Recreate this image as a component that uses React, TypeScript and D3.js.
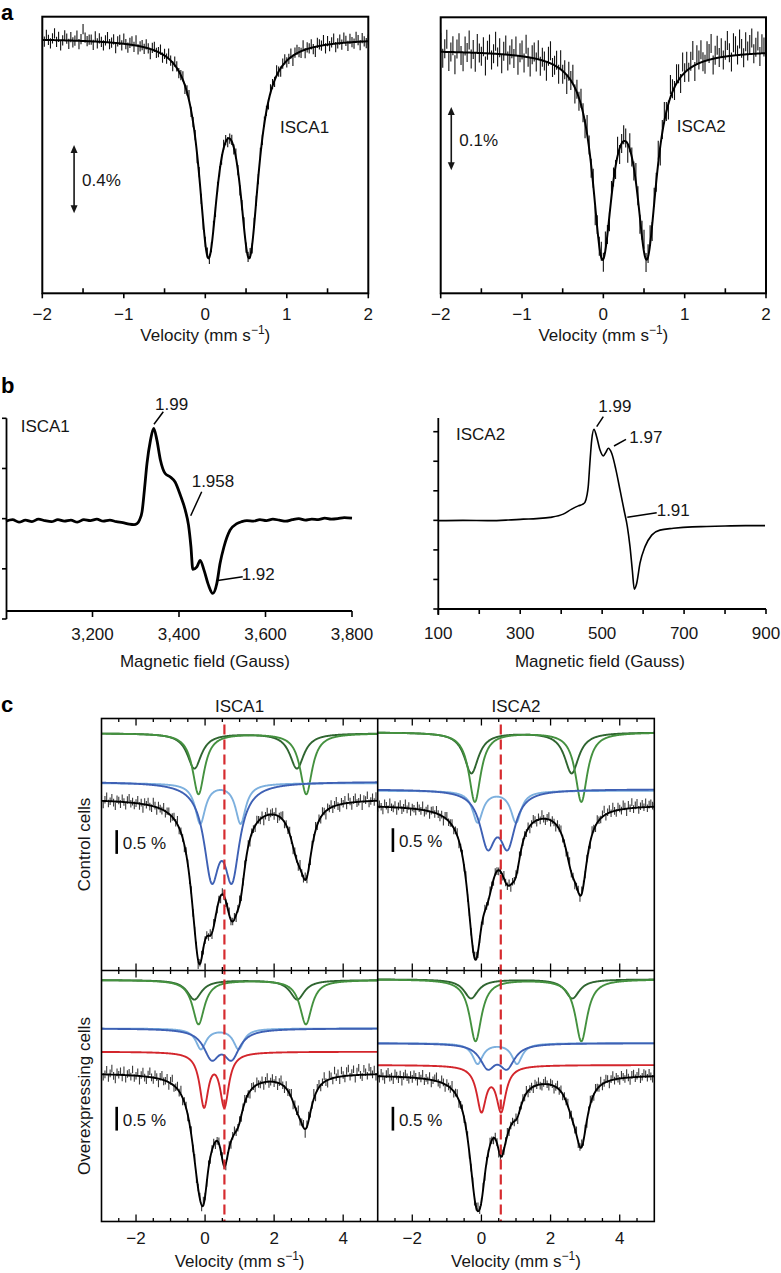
import React from 'react';
import * as d3 from 'd3';

const FONT = '"Liberation Sans", Arial, Helvetica, sans-serif';
const INK = '#161616';
const MINUS = '\u2212';
const fmtSigned = (v: number) => (v < 0 ? MINUS : '') + Math.abs(v);

// ================= Panel a : Mössbauer of purified proteins =================
const A_MAJOR_TICKS = [-2, -1, 0, 1, 2];
const A_MINOR_TICKS = [-1.5, -0.5, 0.5, 1.5];

// ISCA1 doublet (transmission %, 100 = baseline)
const A1_LINE_POS = [0.037, 0.54];
const A1_LINE_DEPTH = 1.198;
const A1_LINE_GAMMA = 0.143;
const A1_BASELINE = 100;
const A1_Y_DOMAIN = [98.507, 100.126];
const A1_RESID_UNIT = 0.01; // residuals below in 0.01 %
const A1_ERR = 0.03;
const A1_RESID = [
  2, -1, 3, 0, -2, 1, 4, -1, 2, -3, 0, 3, 1, -2, 2, -1, 0, 3, -2, 1,
  7, 2, 0, 1, 1, -2, 3, -1, 2, 0, -2, 1, 3, -1, 0, 2, -3, 1, 2, -1,
  3, 0, -2, 1, 2, -1, 3, -2, 0, 1, -1, 2, 0, -3, 1, 2, -1, 0, 2, -2,
  1, -1, 3, 0, -2, 2, 1, -1, 0, 2, -2, 1, 3, -1, 0, 1, -2, 2, 0, -1,
  1, 2, -1, 0, 2, -2, 1, 0, -1, 2, 1, -2, 0, 1, -1, 2, 0, -2, 1, 3,
  -1, 0, 2, -2, 1, 0, -1, 2, -1, 1, 0, -2, 2, 1, -1, 3, 0, -2, 1, 2,
  -1, 0, 2, -3, 1, 2, 0, -1, 3, -2, 1, 0, 2, -1, -3, 2, 1, 0, 3, -2,
  2, -1, 1, 3, -2, 0, 2, -1, 3, 1, -2, 2, 0, -1, 3, 1, -2, 2, 0, -1,
  1,
];
const A1_BAR = { v: -1.61, top: 99.375, size: 0.4, label: '0.4%' };

// ISCA2 doublet
const A2_LINE_POS = [-0.012, 0.534];
const A2_LINE_DEPTH = 0.3096;
const A2_LINE_GAMMA = 0.15;
const A2_BASELINE = 100;
const A2_Y_DOMAIN = [99.6156, 100.0517];
const A2_RESID_UNIT = 0.005;
const A2_ERR = 0.015;
const A2_RESID = [
  3, -2, 1, 4, -3, 0, 2, -4, 1, 3, -1, -3, 2, 0, 4, -2, 1, -3, 3, 0,
  -1, 2, -4, 1, 3, -2, 0, 4, -1, 2, -3, 1, 3, -2, 0, 2, -1, 3, -3, 1,
  2, -2, 4, 0, -3, 1, 2, -1, 3, -2, 1, 0, -3, 2, 4, -1, 0, 2, -2, 3,
  -1, 1, -3, 2, 0, 3, -2, 1, -1, 2, 0, -2, 3, 1, -1, 2, -3, 1, 0, 2,
  -1, 3, 0, -2, 2, 1, -1, 3, -2, 0, 2, 1, -3, 2, 0, -1, 3, 1, -2, 2,
  4, -1, 1, 3, -2, 2, 0, 4, -3, 1, 3, 0, -2, 4, 1, -1, 3, 2, -2, 4,
  0, 3, -1, 2, 5, -2, 3, 1, 4, 0, -1, 3, 2, 5, -2, 1, 4, 0, 3, -1,
  2, 5, 1, -2, 4, 3, 0, 5, 2, -1, 4, 1, 3, 5, 0, 2, 4, -1, 3, 2,
  1,
];
const A2_BAR = { v: -1.87, top: 99.91, size: 0.1, label: '0.1%' };

// ================= Panel b : EPR =================
const B1_X_TICKS = [3200, 3400, 3600, 3800];
const B1_Y_TICKS = [-2, -1, 0, 1, 2];
const B1_FIELD = [
  3000, 3015, 3030, 3045, 3060, 3075, 3090, 3105, 3120, 3135, 3150, 3165, 3180, 3195, 3210, 3225, 3240, 3255, 3270, 3285,
  3296, 3303, 3309, 3314.6, 3320, 3326, 3334, 3341.5, 3349, 3357, 3368, 3380, 3391, 3403, 3414.5, 3422, 3427.6, 3432, 3441.4, 3449,
  3458, 3468, 3478, 3487.5, 3495, 3504, 3518, 3533.7, 3545, 3557,
  3572, 3587, 3602, 3617, 3632, 3647, 3662, 3677, 3692, 3707, 3722, 3737, 3752, 3767, 3782, 3800,
];
const B1_SIGNAL = [
  -0.05, -0.02, -0.07, -0.03, -0.06, -0.01, -0.04, -0.06, -0.02, -0.05, -0.03, -0.07, -0.02, -0.04, -0.01, -0.05, -0.03, -0.06, -0.08, -0.11,
  -0.12, -0.1, -0.02, 0.14, 0.57, 1.1, 1.56, 1.8, 1.56, 1.17, 0.9, 0.83, 0.73, 0.47, 0.17, -0.13, -0.56, -1.01, -0.96, -0.83,
  -1.03, -1.32, -1.49, -1.29, -0.89, -0.56, -0.23, -0.1, -0.06, -0.04,
  -0.05, -0.02, -0.04, -0.01, -0.03, -0.05, -0.02, 0.0, -0.03, -0.01, -0.02, 0.01, -0.01, 0.0, 0.02, 0.01,
];
const B1_G_LABELS = ['1.99', '1.958', '1.92'];

const B2_X_TICKS = [100, 200, 300, 400, 500, 600, 700, 800, 900];
const B2_X_LABELS = [100, 300, 500, 700, 900];
const B2_Y_TICKS = [-3, -2, -1, 0, 1, 2, 3];
const B2_FIELD = [
  100, 160, 226, 270, 307.5, 340, 373, 405, 425.6, 441.8, 452, 458, 463, 466, 470, 474.5, 480, 486.6, 494.8, 502.8,
  509, 515, 523.3, 533.8, 543.6, 553.4, 561.5, 568, 573.6, 578.5, 584.4, 592.4, 604.7, 621, 641, 673.8, 720, 755, 800, 850, 897.6,
];
const B2_SIGNAL = [
  -0.01, 0.0, -0.01, 0.01, 0.04, 0.06, 0.1, 0.21, 0.38, 0.49, 0.54, 0.61, 0.85, 1.14, 1.93, 2.72, 3.08, 2.83, 2.38, 2.18,
  2.3, 2.44, 2.27, 1.7, 1.03, 0.35, -0.21, -0.89, -1.68, -2.33, -2.13, -1.45, -0.89, -0.5, -0.33, -0.27, -0.22, -0.21, -0.19, -0.18, -0.18,
];
const B2_G_LABELS = ['1.99', '1.97', '1.91'];

// ================= Panel c : whole-cell Mössbauer =================
const C_MAJOR_TICKS = [-2, 0, 2, 4];
const C_MINOR_TICKS = [-2.5, -1.5, -1, -0.5, 0.5, 1, 1.5, 2.5, 3, 3.5, 4.5];
const C_DASH_VEL = 0.56;
const C_RESID_UNIT = 0.025;
const C_ERR = 0.08;
const C_BAR_SIZE = 0.5;
const C_BAR_V = -2.56;

// components: [shallow green, deep green, light blue, dark blue, (red)]
const C1_KINDS = ['greenDark', 'greenMid', 'blueLight', 'blueDark'];
const C1_POS = [[-0.31, 2.66], [-0.19, 2.93], [-0.14, 1.03], [0.19, 0.78]];
const C1_DEPTH = [0.74, 1.28, 0.84, 1.83];
const C1_GAMMA = [0.25, 0.21, 0.18, 0.27];
const C1_BASE = [-0.31, -0.31, -1.36, -1.33];
const C1_FIT_BASE = -1.69;
const C1_BAR_TOP = -2.35;
const C1_RESID = [
  2, -3, 1, 4, -2, 0, 3, -1, -4, 2, 1, -2, 3, 0, -3, 2, 4, -1, 1, -2,
  0, 3, -2, 1, -4, 2, 0, 3, -1, -2, 4, 1, -3, 2, 0, -1, 3, -2, 1, 2,
  -3, 0, 2, -1, 4, -2, 1, 0, -3, 2, 1, -2, 3, -1, 0, 2, -4, 1, 3, -2,
  0, 1, -1, 2, -2, 3, 0, -1, 1, -3, 2, 0, -2, 1, 3, -1, 0, 2, -3, 1,
  4, -2, 0, 3, -1, 2, -3, 1, 0, -2, 3, 1, -1, 2, -4, 0, 3, -2, 1, 2,
  -1, 3, -3, 0, 2, 4, -2, 1, -1, 3, 0, -3, 2, 1, -2, 4, 0, -1, 3, -2,
  1, -3, 2, 0, 4, -1, 2, -2, 3, 1, -4, 2, 0, 3, -2, 1, 4, -1, -3, 2,
  0, 3, -2, 5, 1, -3, 2, 4, -1, 0, 3, -4, 2, 1, 5, -2, 0, 3, -1, 4,
  1,
];

const C2_KINDS = ['greenDark', 'greenMid', 'blueLight', 'blueDark'];
const C2_POS = [[-0.29, 2.61], [-0.19, 2.89], [-0.11, 1.0], [0.18, 0.76]];
const C2_DEPTH = [0.86, 1.46, 0.66, 1.09];
const C2_GAMMA = [0.25, 0.21, 0.18, 0.27];
const C2_BASE = [-0.29, -0.29, -1.52, -1.49];
const C2_FIT_BASE = -1.82;
const C2_BAR_TOP = -2.31;
const C2_RESID = [
  -1, 2, 0, -3, 3, 1, -2, 4, 0, -1, 2, -3, 1, 3, -2, 0, 4, -1, 2, -3,
  1, 0, -2, 3, 1, -1, 4, -2, 0, 2, -3, 1, 2, -1, 3, 0, -2, 1, -4, 2,
  3, -1, 0, 2, -2, 1, 3, -3, 0, 2, -1, 4, -2, 1, 0, -1, 2, 3, -2, 0,
  1, -3, 2, 0, -1, 3, 1, -2, 2, 0, -1, 1, -2, 3, 0, -1, 2, -3, 1, 0,
  2, -1, 3, -2, 0, 1, -1, 2, -3, 0, 3, 1, -2, 2, -1, 4, 0, -2, 1, 3,
  -2, 1, 0, -3, 2, 1, 3, -1, 0, -2, 2, 4, -1, 1, -3, 0, 2, -2, 3, 1,
  -1, 2, 0, -3, 4, 1, -2, 3, 0, -1, 2, 5, -2, 1, 3, -1, 4, 0, -2, 3,
  1, -1, 4, 2, -3, 3, 0, 5, -1, 2, 4, -2, 1, 3, 0, 4, -1, 2, 3, 1,
  0,
];

const C3_KINDS = ['greenDark', 'greenMid', 'blueLight', 'blueDark', 'red'];
const C3_POS = [[-0.31, 2.67], [-0.19, 2.92], [-0.12, 0.97], [0.19, 0.77], [-0.03, 0.56]];
const C3_DEPTH = [0.41, 0.93, 0.43, 0.57, 1.11];
const C3_GAMMA = [0.25, 0.21, 0.18, 0.28, 0.155];
const C3_BASE = [-0.2, -0.2, -1.22, -1.22, -1.71];
const C3_FIT_BASE = -2.16;
const C3_BAR_TOP = -2.87;
const C3_RESID = [
  3, -2, 0, 4, -3, 1, 5, -1, -4, 2, 0, 3, -2, 4, -3, 1, 2, -1, 5, -2,
  0, 3, -4, 1, 4, -1, -3, 2, 5, 0, -2, 3, 1, -4, 2, 4, -1, 0, 3, -3,
  2, 5, -2, 0, 3, -1, 4, -3, 1, 2, -2, 0, 4, -1, 3, -3, 1, 2, -2, 4,
  0, -1, 3, -2, 1, 2, -3, 0, 2, -1, 3, 1, -2, 0, 2, -3, 1, 3, -1, 0,
  2, -2, 1, 3, -1, 0, -3, 2, 1, -2, 3, 0, -1, 2, -3, 1, 4, -2, 0, 3,
  -1, 2, -3, 1, 4, 0, -2, 3, -1, 1, 4, -3, 2, 0, 5, -2, 1, 3, -4, 2,
  4, -1, 0, 5, -3, 2, 3, -2, 1, 5, -1, -3, 4, 2, -2, 6, 0, 3, -3, 5,
  1, -2, 4, 6, -1, 2, 5, -3, 3, 6, 0, -2, 5, 2, -1, 6, 3, 0, 4, -2,
  5,
];

const C4_KINDS = ['greenDark', 'greenMid', 'blueLight', 'blueDark', 'red'];
const C4_POS = [[-0.3, 2.63], [-0.17, 2.89], [-0.11, 1.03], [0.18, 0.74], [0.0, 0.57]];
const C4_DEPTH = [0.4, 1.3, 0.43, 0.47, 0.93];
const C4_GAMMA = [0.25, 0.21, 0.18, 0.27, 0.165];
const C4_BASE = [-0.185, -0.185, -1.53, -1.53, -1.99];
const C4_FIT_BASE = -2.2;
const C4_BAR_TOP = -2.87;
const C4_RESID = [
  1, -2, 3, 0, -3, 2, 4, -1, 0, -3, 3, 1, -2, 2, -4, 1, 3, 0, -2, 2,
  -1, 3, 1, -3, 2, 0, 4, -2, 1, -1, 3, -3, 0, 2, 4, -1, -2, 3, 1, -3,
  2, 0, -1, 4, -2, 1, 3, -3, 0, 2, -1, 1, 3, -2, 0, 2, -3, 1, 4, -1,
  0, 2, -2, 1, -1, 3, 0, -2, 2, 1, -3, 0, 2, -1, 1, 3, -2, 0, 1, -1,
  2, -3, 1, 0, 2, -1, 3, -2, 0, 1, -2, 2, 0, 3, -1, -2, 1, 3, 0, -2,
  2, 1, -3, 0, 3, -1, 2, -2, 1, 0, 3, -3, 2, 1, -1, 4, -2, 0, 3, -1,
  2, -3, 1, 4, 0, -2, 3, 1, -1, 4, -2, 0, 3, 2, -3, 1, 4, -1, 2, 0,
  -2, 3, 1, -1, 4, 0, -3, 2, 3, -1, 1, 4, -2, 0, 3, 2, -1, 3, 0, -2,
  2,
];

const C_KIND_COLOR: Record<string, string> = {
  greenDark: '#2f6530',
  greenMid: '#44913f',
  blueLight: '#7db0de',
  blueDark: '#3e60b4',
  red: '#d3262c',
};

// ================= helpers =================
const lor = (v: number, p: number, g: number) => 1 / (1 + ((v - p) / g) ** 2);
const absorb = (v: number, pos: number[], depth: number, gamma: number) =>
  pos.reduce((s, p) => s + depth * lor(v, p, gamma), 0);

function Text(props: any) {
  const { children, ...rest } = props;
  return (
    <text fontFamily={FONT} fontSize={17} fill={INK} {...rest}>
      {children}
    </text>
  );
}

function VelocityTitle({ x, y }: { x: number; y: number }) {
  return (
    <Text x={x} y={y} textAnchor="middle">
      <tspan>Velocity (mm s</tspan>
      <tspan dy={-7} fontSize={12}>{MINUS + '1'}</tspan>
      <tspan dy={7}>)</tspan>
    </Text>
  );
}

function DoubleArrow({ x, y1, y2 }: { x: number; y1: number; y2: number }) {
  const h = 8, w = 3.5;
  return (
    <g>
      <line x1={x} x2={x} y1={y1 + 4} y2={y2 - 4} stroke={INK} strokeWidth={1.6} />
      <path d={`M${x},${y1} L${x - w},${y1 + h} L${x + w},${y1 + h} Z`} fill={INK} />
      <path d={`M${x},${y2} L${x - w},${y2 - h} L${x + w},${y2 - h} Z`} fill={INK} />
    </g>
  );
}

// ================= Panel a component =================
function PanelA(p: {
  id: string; left: number; right: number; top: number; bottom: number;
  yDomain: number[]; linePos: number[]; lineDepth: number; lineGamma: number; baseline: number;
  resid: number[]; residUnit: number; err: number;
  bar: { v: number; top: number; size: number; label: string };
  label: string; labelX: number; labelY: number;
}) {
  const x = d3.scaleLinear().domain([-2, 2]).range([p.left, p.right]);
  const y = d3.scaleLinear().domain(p.yDomain).range([p.bottom, p.top]);
  const fit = (v: number) => p.baseline - absorb(v, p.linePos, p.lineDepth, p.lineGamma);
  const n = p.resid.length;
  const data = p.resid.map((r, i) => {
    const v = -2 + (4 * i) / (n - 1);
    return { v, t: fit(v) + r * p.residUnit };
  });
  const grid = d3.range(0, 801).map((i) => -2 + i * 0.005);
  const fitPath = d3.line<number>().x((v) => x(v)).y((v) => y(fit(v)))(grid) || '';
  const bx = x(p.bar.v);
  return (
    <g>
      <defs>
        <clipPath id={p.id}>
          <rect x={p.left} y={p.top} width={p.right - p.left} height={p.bottom - p.top} />
        </clipPath>
      </defs>
      <g clipPath={`url(#${p.id})`}>
        {data.map((d, i) => (
          <line key={i} x1={x(d.v)} x2={x(d.v)} y1={y(d.t + p.err)} y2={y(d.t - p.err)} stroke="#111" strokeWidth={1.1} />
        ))}
        <path d={fitPath} fill="none" stroke="#000" strokeWidth={2} />
      </g>
      <rect x={p.left} y={p.top} width={p.right - p.left} height={p.bottom - p.top} fill="none" stroke="#000" strokeWidth={2} />
      {A_MAJOR_TICKS.map((t) => (
        <line key={'M' + t} x1={x(t)} x2={x(t)} y1={p.bottom} y2={p.bottom + 5} stroke="#000" strokeWidth={1.6} />
      ))}
      {A_MINOR_TICKS.map((t) => (
        <line key={'m' + t} x1={x(t)} x2={x(t)} y1={p.bottom} y2={p.bottom - 5} stroke="#000" strokeWidth={1.6} />
      ))}
      {A_MAJOR_TICKS.map((t) => (
        <Text key={'l' + t} x={x(t)} y={320} textAnchor="middle">{fmtSigned(t)}</Text>
      ))}
      <VelocityTitle x={(p.left + p.right) / 2} y={341} />
      <DoubleArrow x={bx} y1={y(p.bar.top)} y2={y(p.bar.top - p.bar.size)} />
      <Text x={bx + 8} y={(y(p.bar.top) + y(p.bar.top - p.bar.size)) / 2 + 7}>{p.bar.label}</Text>
      <Text x={p.labelX} y={p.labelY}>{p.label}</Text>
    </g>
  );
}

// ================= Panel b components =================
function PanelB1() {
  const x = d3.scaleLinear().domain([3000, 3800]).range([6, 352]);
  const y = d3.scaleLinear().domain([-2, 2]).range([619, 418.3]);
  const pts = B1_FIELD.map((f, i) => [x(f), y(B1_SIGNAL[i])] as [number, number]);
  const path = d3.line().curve(d3.curveMonotoneX)(pts) || '';
  const axisY = 611;
  const ax = 6.5;
  return (
    <g>
      <line x1={ax} x2={ax} y1={y(2)} y2={y(-2)} stroke="#000" strokeWidth={1.8} />
      {B1_Y_TICKS.map((t) => (
        <line key={t} x1={ax - 4.5} x2={ax} y1={y(t)} y2={y(t)} stroke="#000" strokeWidth={1.6} />
      ))}
      <line x1={ax} x2={x(3800)} y1={axisY} y2={axisY} stroke="#000" strokeWidth={1.8} />
      {B1_X_TICKS.map((t) => (
        <g key={t}>
          <line x1={x(t)} x2={x(t)} y1={axisY} y2={axisY + 6} stroke="#000" strokeWidth={1.6} />
          <Text x={x(t)} y={640} textAnchor="middle">{d3.format(',')(t)}</Text>
        </g>
      ))}
      <Text x={205} y={667} textAnchor="middle">Magnetic field (Gauss)</Text>
      <path d={path} fill="none" stroke="#000" strokeWidth={2.8} strokeLinejoin="round" />
      <Text x={20.7} y={431.5}>ISCA1</Text>
      <Text x={155} y={410}>{B1_G_LABELS[0]}</Text>
      <line x1={154} y1={424.3} x2={163.3} y2={411.7} stroke="#000" strokeWidth={1.5} />
      <Text x={191.7} y={486.7}>{B1_G_LABELS[1]}</Text>
      <line x1={190.7} y1={515.7} x2={201.7} y2={491.7} stroke="#000" strokeWidth={1.5} />
      <Text x={241.7} y={580}>{B1_G_LABELS[2]}</Text>
      <line x1={216} y1={580.7} x2={242.7} y2={576.7} stroke="#000" strokeWidth={1.5} />
    </g>
  );
}

function PanelB2() {
  const x = d3.scaleLinear().domain([100, 900]).range([438.3, 766]);
  const y = d3.scaleLinear().domain([-3, 3]).range([609, 431.7]);
  const pts = B2_FIELD.map((f, i) => [x(f), y(B2_SIGNAL[i])] as [number, number]);
  const path = d3.line().curve(d3.curveMonotoneX)(pts) || '';
  const axisY = 609;
  const ax = 438.3;
  return (
    <g>
      <line x1={ax} x2={ax} y1={418} y2={615} stroke="#000" strokeWidth={1.8} />
      {B2_Y_TICKS.map((t) => (
        <line key={t} x1={ax - 5} x2={ax} y1={y(t)} y2={y(t)} stroke="#000" strokeWidth={1.6} />
      ))}
      <line x1={ax} x2={x(900)} y1={axisY} y2={axisY} stroke="#000" strokeWidth={1.8} />
      {B2_X_TICKS.map((t) => (
        <line key={t} x1={x(t)} x2={x(t)} y1={axisY} y2={axisY + 5} stroke="#000" strokeWidth={1.6} />
      ))}
      {B2_X_LABELS.map((t) => (
        <Text key={t} x={x(t)} y={638.5} textAnchor="middle">{String(t)}</Text>
      ))}
      <Text x={600} y={667} textAnchor="middle">Magnetic field (Gauss)</Text>
      <path d={path} fill="none" stroke="#000" strokeWidth={1.6} strokeLinejoin="round" />
      <Text x={456} y={440}>ISCA2</Text>
      <Text x={598.3} y={411.5}>{B2_G_LABELS[0]}</Text>
      <line x1={596.7} y1={426.7} x2={603.3} y2={416.7} stroke="#000" strokeWidth={1.5} />
      <Text x={629.3} y={442.5}>{B2_G_LABELS[1]}</Text>
      <line x1={614} y1={446} x2={626} y2={439.3} stroke="#000" strokeWidth={1.5} />
      <Text x={656.7} y={516}>{B2_G_LABELS[2]}</Text>
      <line x1={627.3} y1={517.3} x2={656.7} y2={512.7} stroke="#000" strokeWidth={1.5} />
    </g>
  );
}

// ================= Panel c component =================
function PanelC(p: {
  id: string; left: number; right: number; top: number; bottom: number; yDomain: number[];
  kinds: string[]; pos: number[][]; depth: number[]; gamma: number[]; base: number[];
  fitBase: number; resid: number[]; barTop: number;
}) {
  const x = d3.scaleLinear().domain([-3, 5]).range([p.left, p.right]);
  const y = d3.scaleLinear().domain(p.yDomain).range([p.bottom, p.top]);
  const total = (v: number) => p.pos.reduce((s, ps, k) => s + absorb(v, ps, p.depth[k], p.gamma[k]), 0);
  const fit = (v: number) => p.fitBase - total(v);
  const grid = d3.range(0, 801).map((i) => -3 + i * 0.01);
  const n = p.resid.length;
  const data = p.resid.map((r, i) => {
    const v = -3 + (8 * i) / (n - 1);
    return { v, t: fit(v) + r * C_RESID_UNIT };
  });
  const compPaths = p.pos.map((ps, k) =>
    d3.line<number>().x((v) => x(v)).y((v) => y(p.base[k] - absorb(v, ps, p.depth[k], p.gamma[k])))(grid) || ''
  );
  const fitPath = d3.line<number>().x((v) => x(v)).y((v) => y(fit(v)))(grid) || '';
  const bx = x(C_BAR_V);
  const by1 = y(p.barTop), by2 = y(p.barTop - C_BAR_SIZE);
  return (
    <g>
      <defs>
        <clipPath id={p.id}>
          <rect x={p.left} y={p.top} width={p.right - p.left} height={p.bottom - p.top} />
        </clipPath>
      </defs>
      <g clipPath={`url(#${p.id})`}>
        {compPaths.map((d, k) => (
          <path key={k} d={d} fill="none" stroke={C_KIND_COLOR[p.kinds[k]]} strokeWidth={1.9} />
        ))}
        {data.map((d, i) => (
          <line key={i} x1={x(d.v)} x2={x(d.v)} y1={y(d.t + C_ERR)} y2={y(d.t - C_ERR)} stroke="#3a3a3a" strokeWidth={1.1} />
        ))}
        <path d={fitPath} fill="none" stroke="#000" strokeWidth={1.9} />
      </g>
      {[...C_MAJOR_TICKS.map((t) => [t, 7]), ...C_MINOR_TICKS.map((t) => [t, 3.5])].map(([t, len]) => (
        <g key={t}>
          <line x1={x(t)} x2={x(t)} y1={p.top} y2={p.top + len} stroke="#000" strokeWidth={1.3} />
          <line x1={x(t)} x2={x(t)} y1={p.bottom} y2={p.bottom - len} stroke="#000" strokeWidth={1.3} />
        </g>
      ))}
      <line x1={bx} x2={bx} y1={by1} y2={by2} stroke="#000" strokeWidth={2.6} />
      <Text x={bx + 6} y={(by1 + by2) / 2 + 7}>0.5 %</Text>
    </g>
  );
}

const C_LEFT = 101.5, C_MID = 377.7, C_RIGHT = 654.3;
const C_TOP = 718.5, C_HMID = 970.5, C_BOTTOM = 1221.5;
const C_PX_PER_PCT = 47.5;

export default function App() {
  const yTopDomain = [-(C_HMID - C_TOP) / C_PX_PER_PCT, 0];
  const yBotDomain = [-(C_BOTTOM - C_HMID) / C_PX_PER_PCT, 0];
  const xCL = d3.scaleLinear().domain([-3, 5]).range([C_LEFT, C_MID]);
  const xCR = d3.scaleLinear().domain([-3, 5]).range([C_MID, C_RIGHT]);
  return (
    <svg width={781} height={1273} style={{ position: 'absolute', left: 0, top: 0, background: '#fff' }}>
      <rect x={0} y={0} width={781} height={1273} fill="#fff" />

      {/* panel letters */}
      <Text x={1} y={20} fontSize={22} fontWeight="bold" fill="#000">a</Text>
      <Text x={1} y={393} fontSize={22} fontWeight="bold" fill="#000">b</Text>
      <Text x={1} y={712} fontSize={22} fontWeight="bold" fill="#000">c</Text>

      {/* panel a */}
      <PanelA id="clipA1" left={42.3} right={368.3} top={16.7} bottom={293.3}
        yDomain={A1_Y_DOMAIN} linePos={A1_LINE_POS} lineDepth={A1_LINE_DEPTH} lineGamma={A1_LINE_GAMMA}
        baseline={A1_BASELINE} resid={A1_RESID} residUnit={A1_RESID_UNIT} err={A1_ERR}
        bar={A1_BAR} label="ISCA1" labelX={280} labelY={133} />
      <PanelA id="clipA2" left={440.7} right={766} top={17.3} bottom={293.3}
        yDomain={A2_Y_DOMAIN} linePos={A2_LINE_POS} lineDepth={A2_LINE_DEPTH} lineGamma={A2_LINE_GAMMA}
        baseline={A2_BASELINE} resid={A2_RESID} residUnit={A2_RESID_UNIT} err={A2_ERR}
        bar={A2_BAR} label="ISCA2" labelX={676.7} labelY={131.5} />

      {/* panel b */}
      <PanelB1 />
      <PanelB2 />

      {/* panel c */}
      <Text x={(C_LEFT + C_MID) / 2} y={711.7} textAnchor="middle">ISCA1</Text>
      <Text x={(C_MID + C_RIGHT) / 2} y={711.7} textAnchor="middle">ISCA2</Text>

      <PanelC id="clipC1" left={C_LEFT} right={C_MID} top={C_TOP} bottom={C_HMID} yDomain={yTopDomain}
        kinds={C1_KINDS} pos={C1_POS} depth={C1_DEPTH} gamma={C1_GAMMA} base={C1_BASE}
        fitBase={C1_FIT_BASE} resid={C1_RESID} barTop={C1_BAR_TOP} />
      <PanelC id="clipC2" left={C_MID} right={C_RIGHT} top={C_TOP} bottom={C_HMID} yDomain={yTopDomain}
        kinds={C2_KINDS} pos={C2_POS} depth={C2_DEPTH} gamma={C2_GAMMA} base={C2_BASE}
        fitBase={C2_FIT_BASE} resid={C2_RESID} barTop={C2_BAR_TOP} />
      <PanelC id="clipC3" left={C_LEFT} right={C_MID} top={C_HMID} bottom={C_BOTTOM} yDomain={yBotDomain}
        kinds={C3_KINDS} pos={C3_POS} depth={C3_DEPTH} gamma={C3_GAMMA} base={C3_BASE}
        fitBase={C3_FIT_BASE} resid={C3_RESID} barTop={C3_BAR_TOP} />
      <PanelC id="clipC4" left={C_MID} right={C_RIGHT} top={C_HMID} bottom={C_BOTTOM} yDomain={yBotDomain}
        kinds={C4_KINDS} pos={C4_POS} depth={C4_DEPTH} gamma={C4_GAMMA} base={C4_BASE}
        fitBase={C4_FIT_BASE} resid={C4_RESID} barTop={C4_BAR_TOP} />

      {/* red dashed reference lines */}
      <line x1={xCL(C_DASH_VEL)} x2={xCL(C_DASH_VEL)} y1={C_TOP + 6} y2={C_BOTTOM} stroke="#d62b2f" strokeWidth={2.2} strokeDasharray="10,5" />
      <line x1={xCR(C_DASH_VEL)} x2={xCR(C_DASH_VEL)} y1={C_TOP + 6} y2={C_BOTTOM} stroke="#d62b2f" strokeWidth={2.2} strokeDasharray="10,5" />

      {/* frames */}
      <rect x={C_LEFT} y={C_TOP} width={C_RIGHT - C_LEFT} height={C_BOTTOM - C_TOP} fill="none" stroke="#000" strokeWidth={1.6} />
      <line x1={C_MID} x2={C_MID} y1={C_TOP} y2={C_BOTTOM} stroke="#000" strokeWidth={1.6} />
      <line x1={C_LEFT} x2={C_RIGHT} y1={C_HMID} y2={C_HMID} stroke="#000" strokeWidth={1.6} />

      {/* row labels */}
      <Text x={0} y={0} textAnchor="middle" transform={`translate(90,${(C_TOP + C_HMID) / 2}) rotate(-90)`}>Control cells</Text>
      <Text x={0} y={0} textAnchor="middle" transform={`translate(90,${(C_HMID + C_BOTTOM) / 2}) rotate(-90)`}>Overexpressing cells</Text>

      {/* x tick labels and titles */}
      {C_MAJOR_TICKS.map((t) => (
        <g key={t}>
          <Text x={xCL(t)} y={1244} textAnchor="middle">{fmtSigned(t)}</Text>
          <Text x={xCR(t)} y={1244} textAnchor="middle">{fmtSigned(t)}</Text>
        </g>
      ))}
      <VelocityTitle x={(C_LEFT + C_MID) / 2} y={1267} />
      <VelocityTitle x={(C_MID + C_RIGHT) / 2} y={1267} />
    </svg>
  );
}
